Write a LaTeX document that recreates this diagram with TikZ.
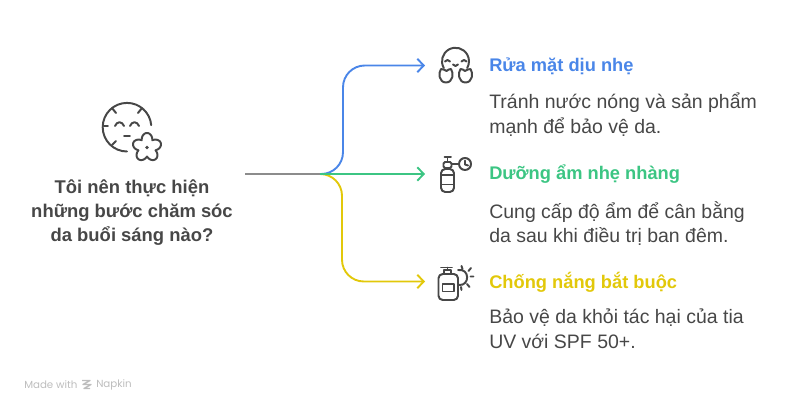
\documentclass[tikz,border=0pt]{standalone}
\usepackage{fontspec}
\setmainfont{Liberation Sans}
\newfontfamily\footfont{Poppins}
\usetikzlibrary{arrows.meta}
\definecolor{inkdark}{HTML}{474747}
\definecolor{bluearm}{HTML}{4A86E8}
\definecolor{greenarm}{HTML}{3CC583}
\definecolor{yellowarm}{HTML}{E2C80A}
\definecolor{grayarm}{HTML}{8C8C8C}
\definecolor{footgray}{HTML}{BDBDBD}
\tikzset{
    arm/.style={line width=1.35pt, rounded corners=15.5pt, -{Straight Barb[length=4.5pt,width=9.5pt,line width=1.35pt]}},
    icon/.style={draw=inkdark, line width=1.4pt, line cap=round, line join=round},
    question/.style={font=\bfseries\fontsize{13.1}{17}\selectfont, text=inkdark, align=center, inner sep=0pt},
    heading/.style={font=\bfseries\fontsize{13}{17}\selectfont, anchor=west, inner sep=0pt},
    detail/.style={font=\fontsize{13.85}{17.3}\selectfont, text=inkdark, anchor=north west, align=left, inner sep=0pt},
    foot/.style={font=\footfont\fontsize{7.3}{10}\selectfont, text=footgray, anchor=west, inner sep=0pt},
}
\begin{document}
\begin{tikzpicture}[x=0.025cm, y=-0.025cm]
    \useasboundingbox (0,0) rectangle (798,412);

    % Left side question
    \node[question] (ask) at (132,212.5) {Tôi nên thực hiện\\những bước chăm sóc\\da buổi sáng nào?};

    % Branching points
    \coordinate (start) at (245,174);
    \coordinate (hub) at (320,174);
    \coordinate (endA) at (425,65.5);
    \coordinate (endB) at (425,174);
    \coordinate (endC) at (425,281.5);

    % Connectors
    \draw[line width=1.35pt, grayarm] (start) -- (hub);
    \draw[arm, bluearm] (hub) -| (343,65.5) -- (endA);
    \draw[arm, yellowarm] (hub) -| (342,281.5) -- (endC);
    \draw[arm, greenarm] (hub) -- (endB);

    % Headings and details
    \node[heading, text=bluearm] (titleA) at (489,66) {Rửa mặt dịu nhẹ};
    \node[detail] (textA) at (489,93) {Tránh nước nóng và sản phẩm\\mạnh để bảo vệ da.};
    \node[heading, text=greenarm] (titleB) at (489,174) {Dưỡng ẩm nhẹ nhàng};
    \node[detail] (textB) at (489,201) {Cung cấp độ ẩm để cân bằng\\da sau khi điều trị ban đêm.};
    \node[heading, text=yellowarm] (titleC) at (489,282) {Chống nắng bắt buộc};
    \node[detail] (textC) at (489,309) {Bảo vệ da khỏi tác hại của tia\\UV với SPF 50+.};

    % Face with flower
    \draw[icon] (127,151.5) arc[start angle=90, end angle=355, radius=24.3];
    \draw[icon] (112,108) -- (116,113) (142,108) -- (138,113) (104,126) -- (108,126) (112,145) -- (116,141);
    \draw[icon] (115,126) .. controls (117,121) and (122,121) .. (124,126);
    \draw[icon] (130,126) .. controls (132,121) and (137,121) .. (139,126);
    \draw[icon] (124,136) -- (130,136);
    \draw[icon] plot[domain=0:360, samples=121, smooth] ({147+(9+5.5*abs(cos(2.5*(\x+90))))*cos(\x)}, {147.5+(9+5.5*abs(cos(2.5*(\x+90))))*sin(\x)}) -- cycle;
    \fill[inkdark] (147,147.5) circle (1.8);

    % Smiling face with hands
    \draw[icon] (443.8,68) arc[start angle=150, end angle=390, radius=13.5];
    \draw[icon] (445,61.5) .. controls (446,59.5) and (449,59.5) .. (450,61.5);
    \draw[icon] (461.5,61.5) .. controls (462.5,59.5) and (465.5,59.5) .. (466.5,61.5);
    \draw[icon] (453,64.5) .. controls (454,66.5) and (457,66.5) .. (458,64.5);
    \draw[icon] (441,69) .. controls (443,68) and (445,71) .. (446.5,71) .. controls (448,71) and (449,68) .. (451,69) .. controls (454,73) and (453,82.5) .. (446,82.5) .. controls (439,82.5) and (438,73) .. (441,69) -- cycle;
    \draw[icon] (460.5,69) .. controls (462.5,68) and (463.5,71) .. (465,71) .. controls (466.5,71) and (468.5,68) .. (470.5,69) .. controls (473.5,73) and (472.5,82.5) .. (465.5,82.5) .. controls (458.5,82.5) and (457.5,73) .. (460.5,69) -- cycle;

    % Bottle with clock
    \draw[icon, rounded corners=3pt] (441,192) rectangle (454,169);
    \draw[icon] (441,175) -- (454,175) (441,184.5) -- (454,184.5);
    \draw[icon, rounded corners=1pt] (443.5,168) rectangle (451.5,162);
    \draw[icon] (444.5,157) -- (451,157) (447.5,157) -- (447.5,162);
    \draw[icon] (451.5,164) -- (459,164);
    \draw[icon] (465,164) circle (6);
    \draw[icon] (465,160.5) -- (465,164.5) -- (468,165.5);

    % Pump bottle with sun
    \draw[icon, rounded corners=3pt] (438.5,274) rectangle (458,300);
    \draw[icon] (442.5,284) rectangle (454,291.5);
    \draw[icon] (444,274) -- (444,270) -- (451,270) -- (451,274);
    \draw[icon] (441,267.5) -- (452,267.5) (447.5,267.5) -- (447.5,270);
    \draw[icon] (458,270) .. controls (470,268) and (470,286) .. (459,285);
    \draw[icon] (461.5,266) -- (462.5,269) (471,268) -- (468.5,271) (470.5,276.5) -- (473.5,276.5) (467,284) -- (469.5,287) (461,287) -- (461.5,290);

    % Footer
    \node[foot] (made) at (24,384.5) {Made with};
    \node[foot] (brand) at (96,384.5) {Napkin};
    \draw[footgray, line width=1pt, line join=round] (82,380.5) -- (90,380.5) -- (83,384.5) -- (91,384.5) -- (84,388.5) -- (90,388.5);
\end{tikzpicture}
\end{document}
